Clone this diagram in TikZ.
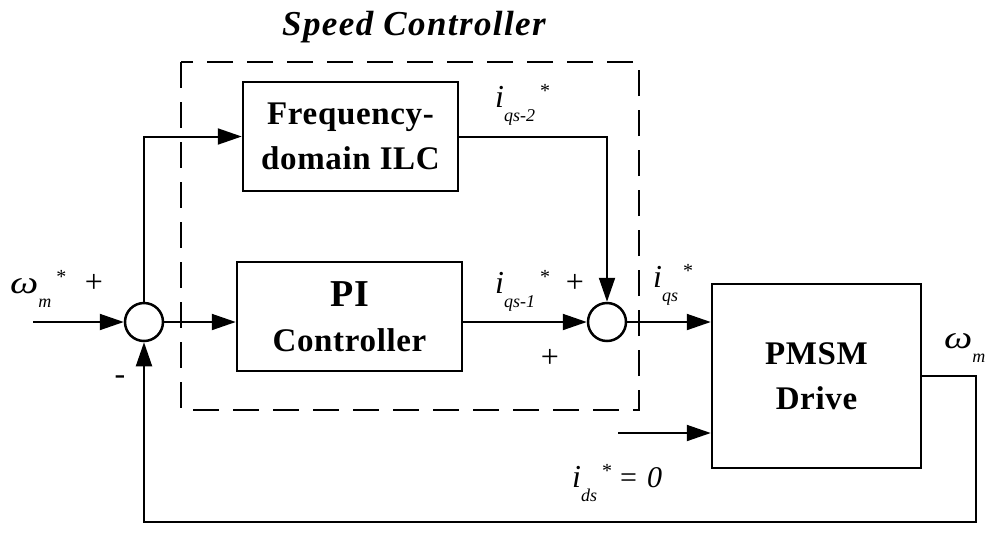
\documentclass[tikz,border=0pt]{standalone}
\usepackage{fontspec}
\setmainfont{Liberation Serif}
\newfontfamily\blockfont[LetterSpace=2]{Liberation Serif}
\newfontfamily\headfont[LetterSpace=4]{Liberation Serif}
\usetikzlibrary{arrows.meta,calc,positioning}
\newcommand{\sigsym}[3]{{\fontsize{32}{32}\selectfont\itshape #1}\raisebox{-14pt}{\fontsize{18}{18}\selectfont\itshape #2}\hspace{5pt}\raisebox{10pt}{\fontsize{20}{20}\selectfont #3}}

\begin{document}
\begin{tikzpicture}[x=1pt,y=-1pt,>={Triangle[length=24pt,width=16pt]},line join=miter]
\useasboundingbox[fill=white] (0,0) rectangle (987,547);
\tikzset{wire/.style={draw,line width=2pt},block/.style={draw,line width=2.5pt,inner sep=0pt,font=\blockfont\bfseries\fontsize{33}{45}\selectfont,align=center},sumjunc/.style={draw,circle,line width=2.5pt,minimum size=38pt,inner sep=0pt},lbl/.style={anchor=base west,inner sep=0pt},sgn/.style={inner sep=0pt,font=\fontsize{32}{32}\selectfont}}
\draw[line width=2.5pt,dash pattern=on 26pt off 14pt] (181,62) rectangle (639,410);
\node[font=\headfont\bfseries\itshape\fontsize{35}{35}\selectfont,anchor=base] (title) at (414,35) {Speed Controller};
\node[block,minimum width=215pt,minimum height=109pt] (freq) at (350.5,136.5) {Frequency-\\domain ILC};
\node[block,minimum width=225pt,minimum height=109pt] (pi) at (349.5,316.5) {{\fontsize{38}{45}\selectfont PI}\\Controller};
\node[block,minimum width=209pt,minimum height=184pt] (pmsm) at (816.5,376) {PMSM\\Drive};
\node[sumjunc] (sum1) at (144,322) {};
\node[sumjunc] (sum2) at (607,322) {};
\coordinate (in) at (33,322);
\coordinate (ids) at (618,433);
\coordinate (out) at (976,376);
\coordinate (fb) at (976,522);
\draw[wire,->] (in) -- (sum1);
\draw[wire,->] (sum1) |- (freq);
\draw[wire,->] (sum1) -- (sum1 -| pi.west);
\draw[wire,->] (pi.east |- sum2) -- (sum2);
\draw[wire,->] (freq) -| (sum2);
\draw[wire,->] (sum2) -- (sum2 -| pmsm.west);
\draw[wire,->] (ids) -- (ids -| pmsm.west);
\draw[wire,->] (pmsm.east |- out) -- (out) -- (fb) -| (sum1);
\node[lbl] (wref) at (10,293) {\sigsym{\scalebox{1.25}[1]{ω}}{m}{*}};
\node[lbl] (iq2) at (495,107) {\sigsym{i}{qs-2}{*}};
\node[lbl] (iq1) at (495,293) {\sigsym{i}{qs-1}{*}};
\node[lbl] (iqs) at (653,287) {\sigsym{i}{qs}{*}};
\node[lbl] (ids0) at (572,487) {\sigsym{i}{ds}{*}\hspace{8pt}{\fontsize{30}{30}\selectfont =\hspace{10pt}\itshape 0}};
\node[lbl] (wm) at (944,348) {\sigsym{\scalebox{1.25}[1]{ω}}{m}{}};
\node[sgn] (p1) at (94,283) {+};
\node[sgn] (m1) at (120,380) {-};
\node[sgn] (p2) at (575,283) {+};
\node[sgn] (p3) at (550,358) {+};
\end{tikzpicture}
\end{document}
